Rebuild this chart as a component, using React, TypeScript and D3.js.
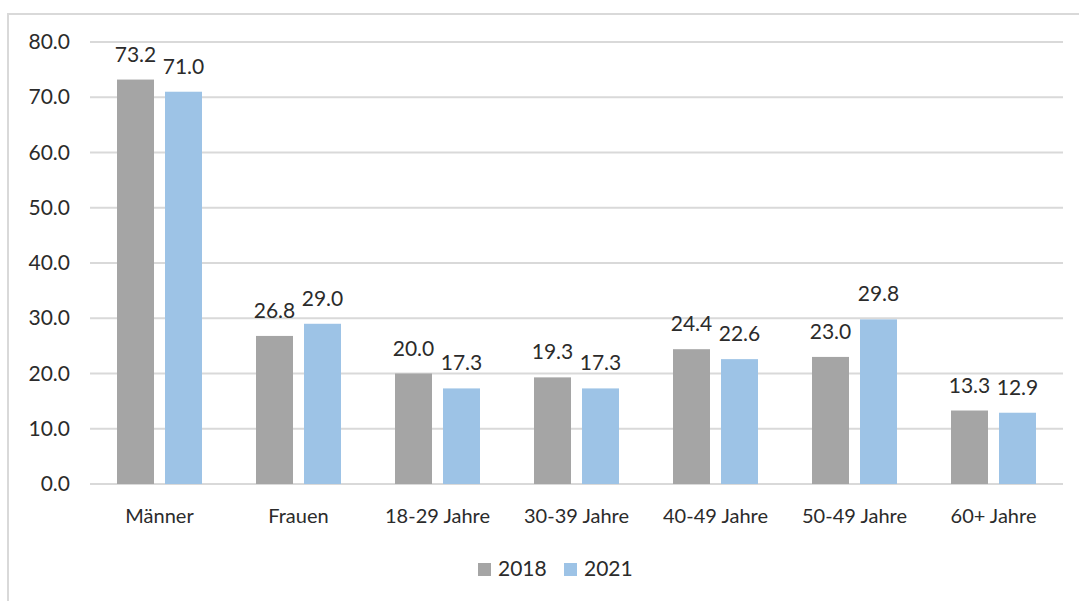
import { useEffect, useRef } from 'react';
import * as d3 from 'd3';

const categories = ['Männer', 'Frauen', '18-29 Jahre', '30-39 Jahre', '40-49 Jahre', '50-49 Jahre', '60+ Jahre'];
const seriesNames = ['2018', '2021'];
const values2018 = [73.2, 26.8, 20.0, 19.3, 24.4, 23.0, 13.3];
const values2021 = [71.0, 29.0, 17.3, 17.3, 22.6, 29.8, 12.9];
const yTicks = [0, 10, 20, 30, 40, 50, 60, 70, 80];
const colors = ['#a5a5a5', '#9dc3e6'];

const width = 1079;
const height = 601;
const FONT = 'Lato, "Open Sans", sans-serif';

const App = () => {
  const svgRef = useRef<SVGSVGElement>(null);

  useEffect(() => {
    const svg = d3.select(svgRef.current);
    svg.selectAll('*').remove();

    // Outer chart frame (only top and left edges show)
    svg.append('rect')
      .attr('x', 8)
      .attr('y', 14)
      .attr('width', 1100)
      .attr('height', 620)
      .attr('fill', '#fff')
      .attr('stroke', '#d9d9d9')
      .attr('stroke-width', 2);

    const x = d3.scaleBand<string>()
      .domain(categories)
      .range([90, 1063])
      .padding(0);

    const xSeries = d3.scaleBand<string>()
      .domain(seriesNames)
      .range([0, x.bandwidth()])
      .paddingInner(0.229)
      .paddingOuter(0.5625);

    const y = d3.scaleLinear()
      .domain([0, 80])
      .range([484, 42]);

    // Gridlines
    svg.append('g')
      .selectAll('line')
      .data(yTicks)
      .enter()
      .append('line')
      .attr('x1', 90)
      .attr('x2', 1063)
      .attr('y1', d => y(d))
      .attr('y2', d => y(d))
      .attr('stroke', '#d9d9d9')
      .attr('stroke-width', 2);

    // Y tick labels
    svg.append('g')
      .selectAll('text')
      .data(yTicks)
      .enter()
      .append('text')
      .attr('x', 70)
      .attr('y', d => y(d) + 7)
      .attr('text-anchor', 'end')
      .attr('font-family', FONT)
      .attr('font-size', '21px')
      .attr('fill', '#2b2b2b')
      .text(d => d3.format('.1f')(d));

    const seriesData = [values2018, values2021];

    seriesData.forEach((vals, si) => {
      const g = svg.append('g');
      g.selectAll('rect')
        .data(vals)
        .enter()
        .append('rect')
        .attr('x', (_, i) => (x(categories[i]) || 0) + (xSeries(seriesNames[si]) || 0))
        .attr('y', d => y(d))
        .attr('width', xSeries.bandwidth())
        .attr('height', d => y(0) - y(d))
        .attr('fill', colors[si]);

      g.selectAll('text')
        .data(vals)
        .enter()
        .append('text')
        .attr('x', (_, i) => (x(categories[i]) || 0) + (xSeries(seriesNames[si]) || 0) + xSeries.bandwidth() / 2)
        .attr('y', d => y(d) - 18)
        .attr('text-anchor', 'middle')
        .attr('font-family', FONT)
        .attr('font-size', '21px')
        .attr('fill', '#2b2b2b')
        .text(d => d3.format('.1f')(d));
    });

    // X category labels
    svg.append('g')
      .selectAll('text')
      .data(categories)
      .enter()
      .append('text')
      .attr('x', d => (x(d) || 0) + x.bandwidth() / 2)
      .attr('y', 523)
      .attr('text-anchor', 'middle')
      .attr('font-family', FONT)
      .attr('font-size', '20px')
      .attr('fill', '#2b2b2b')
      .text(d => d);

    // Legend
    const legendX = [478, 564];
    const legend = svg.append('g');
    seriesNames.forEach((name, i) => {
      legend.append('rect')
        .attr('x', legendX[i])
        .attr('y', 563)
        .attr('width', 13)
        .attr('height', 13)
        .attr('fill', colors[i]);
      legend.append('text')
        .attr('x', legendX[i] + 20)
        .attr('y', 576)
        .attr('font-family', FONT)
        .attr('font-size', '21px')
        .attr('fill', '#2b2b2b')
        .text(name);
    });
  }, []);

  return (
    <div style={{ position: 'absolute', left: 0, top: 0, width, height, overflow: 'hidden', background: '#fff' }}>
      <svg ref={svgRef} width={width} height={height}></svg>
    </div>
  );
};

export default App;
